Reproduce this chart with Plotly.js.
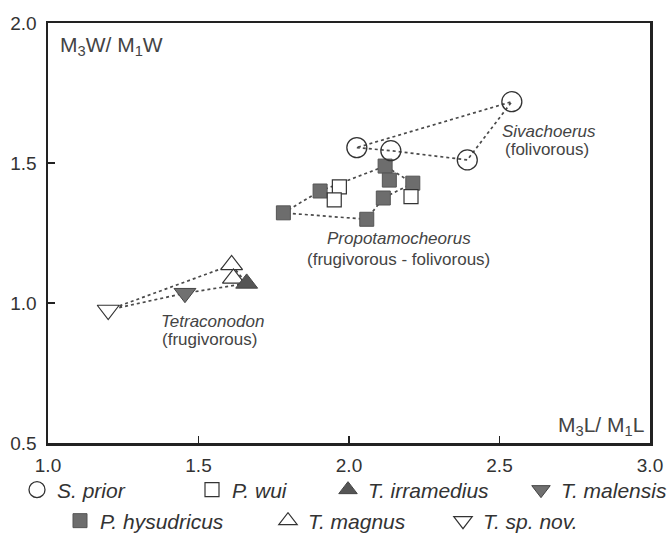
<!DOCTYPE html>
<html>
<head>
<meta charset="utf-8">
<script src="https://cdn.plot.ly/plotly-3.0.1.min.js"></script>
<style>html,body{margin:0;padding:0;background:#fff;}#chart{width:672px;height:559px;}</style>
</head>
<body>
<div id="chart"></div>
<script>
// ---- data ----
const sPriorX = [2.026, 2.139, 2.393, 2.541];
const sPriorY = [1.555, 1.544, 1.511, 1.719];
const pHysX = [1.782, 1.904, 2.059, 2.114, 2.120, 2.134, 2.212];
const pHysY = [1.322, 1.400, 1.299, 1.375, 1.489, 1.439, 1.428];
const pWuiX = [1.968, 1.951, 2.206];
const pWuiY = [1.415, 1.368, 1.380];
const tIrrX = [1.660];
const tIrrY = [1.070];
const tMalX = [1.455];
const tMalY = [1.035];
const tMagX = [1.610, 1.616];
const tMagY = [1.136, 1.088];
const tSpX = [1.200];
const tSpY = [0.975];

const speciesNames = ['S. prior', 'P. wui', 'T. irramedius', 'T. malensis', 'P. hysudricus', 'T. magnus', 'T. sp. nov.'];
const xTicks = [1.0, 1.5, 2.0, 2.5, 3.0];
const yTicks = [0.5, 1.0, 1.5, 2.0];
const xTickText = ['1.0', '1.5', '2.0', '2.5', '3.0'];
const yTickText = ['0.5', '1.0', '1.5', '2.0'];

// ---- dotted outline polygons (built from the points above) ----
const sivOrder = [0, 1, 2, 3, 0];
const sivX = sivOrder.map(i => sPriorX[i]);
const sivY = sivOrder.map(i => sPriorY[i]);
const propOrder = [0, 1, 4, 6, 3, 2, 0];
const propX = propOrder.map(i => pHysX[i]);
const propY = propOrder.map(i => pHysY[i]);
const tetX = [tSpX[0], tMagX[0], tIrrX[0], tMalX[0], tSpX[0]];
const tetY = [tSpY[0], tMagY[0], tIrrY[0], tMalY[0], tSpY[0]];

const lineStyle = {color: '#4a4a4a', width: 1.7, dash: 'dot'};
const FONT = 'Liberation Sans, Arial, sans-serif';

function outline(x, y) {
  return {x, y, type: 'scatter', mode: 'lines', line: lineStyle, showlegend: false, hoverinfo: 'skip'};
}
function pts(x, y, name, legend, marker) {
  return {x, y, type: 'scatter', mode: 'markers', name: '<i>' + name + '</i>', legend, marker, showlegend: true};
}

const traces = [
  outline(sivX, sivY),
  outline(propX, propY),
  outline(tetX, tetY),
  pts(pHysX, pHysY, speciesNames[4], 'legend5', {symbol: 'square', size: 14, color: '#6d6d6d', line: {color: '#555', width: 1}}),
  pts(pWuiX, pWuiY, speciesNames[1], 'legend2', {symbol: 'square', size: 14, color: '#ffffff', line: {color: '#333', width: 1.2}}),
  pts(sPriorX, sPriorY, speciesNames[0], 'legend', {symbol: 'circle-open', size: 20, color: '#333', line: {color: '#333', width: 1.3}}),
  pts(tSpX, tSpY, speciesNames[6], 'legend7', {symbol: 'triangle-down', size: 19, color: '#ffffff', line: {color: '#333', width: 1.2}}),
  pts(tMalX, tMalY, speciesNames[3], 'legend4', {symbol: 'triangle-down', size: 19, color: '#707070', line: {color: '#444', width: 1}}),
  pts(tMagX, tMagY, speciesNames[5], 'legend6', {symbol: 'triangle-up', size: 19, color: '#ffffff', line: {color: '#333', width: 1.2}}),
  pts(tIrrX, tIrrY, speciesNames[2], 'legend3', {symbol: 'triangle-up', size: 19, color: '#555555', line: {color: '#444', width: 1}})
];

// plot area in pixels: left 48, right 650, top 23, bottom 443
function leg(symX, symY) {
  return {
    x: (symX - 20 - 48) / 602, y: (443 - symY) / 420,
    xanchor: 'left', yanchor: 'middle',
    bgcolor: 'rgba(0,0,0,0)', borderwidth: 0,
    font: {family: FONT, size: 21, color: '#333'},
    itemwidth: 30
  };
}

const ann = (text, x, y, size) => ({
  text, x, y, xref: 'x', yref: 'y', showarrow: false,
  font: {family: FONT, size, color: '#444'}, xanchor: 'center', yanchor: 'middle'
});

const layout = {
  width: 672, height: 559,
  margin: {l: 48, r: 22, t: 23, b: 116, autoexpand: false},
  paper_bgcolor: '#fff', plot_bgcolor: '#fff',
  font: {family: FONT, color: '#333'},
  xaxis: {
    range: [1, 3], tickvals: xTicks, ticktext: xTickText,
    ticks: 'inside', ticklen: 7, tickwidth: 1.4, tickcolor: '#222',
    showline: true, linecolor: '#222', linewidth: 2.5, mirror: true,
    showgrid: false, zeroline: false, automargin: false,
    tickfont: {family: FONT, size: 19, color: '#333'}, ticklabelstandoff: 4
  },
  yaxis: {
    range: [0.5, 2], tickvals: yTicks, ticktext: yTickText,
    ticks: 'inside', ticklen: 7, tickwidth: 1.4, tickcolor: '#222',
    showline: true, linecolor: '#222', linewidth: 2.5, mirror: true,
    showgrid: false, zeroline: false, automargin: false,
    tickfont: {family: FONT, size: 19, color: '#333'}, ticklabelstandoff: 5
  },
  legend: leg(37, 490),
  legend2: leg(212, 490),
  legend3: leg(348, 490),
  legend4: leg(541, 490),
  legend5: leg(80, 521),
  legend6: leg(288, 521),
  legend7: leg(463, 521),
  annotations: [
    {text: 'M<sub>3</sub>W/ M<sub>1</sub>W', xref: 'paper', yref: 'paper', x: 0.016, y: 0.945,
     xanchor: 'left', yanchor: 'middle', showarrow: false, font: {family: FONT, size: 21, color: '#444'}},
    {text: 'M<sub>3</sub>L/ M<sub>1</sub>L', xref: 'paper', yref: 'paper', x: 0.993, y: 0.04,
     xanchor: 'right', yanchor: 'middle', showarrow: false, font: {family: FONT, size: 21, color: '#444'}},
    ann('<i>Sivachoerus</i>', 2.664, 1.612, 17),
    ann('(folivorous)', 2.659, 1.548, 17),
    ann('<i>Propotamocheorus</i>', 2.166, 1.229, 17),
    ann('(frugivorous - folivorous)', 2.163, 1.154, 17),
    ann('<i>Tetraconodon</i>', 1.545, 0.933, 17),
    ann('(frugivorous)', 1.535, 0.871, 17)
  ]
};

Plotly.newPlot('chart', traces, layout, {displayModeBar: false, staticPlot: true});
</script>
</body>
</html>
